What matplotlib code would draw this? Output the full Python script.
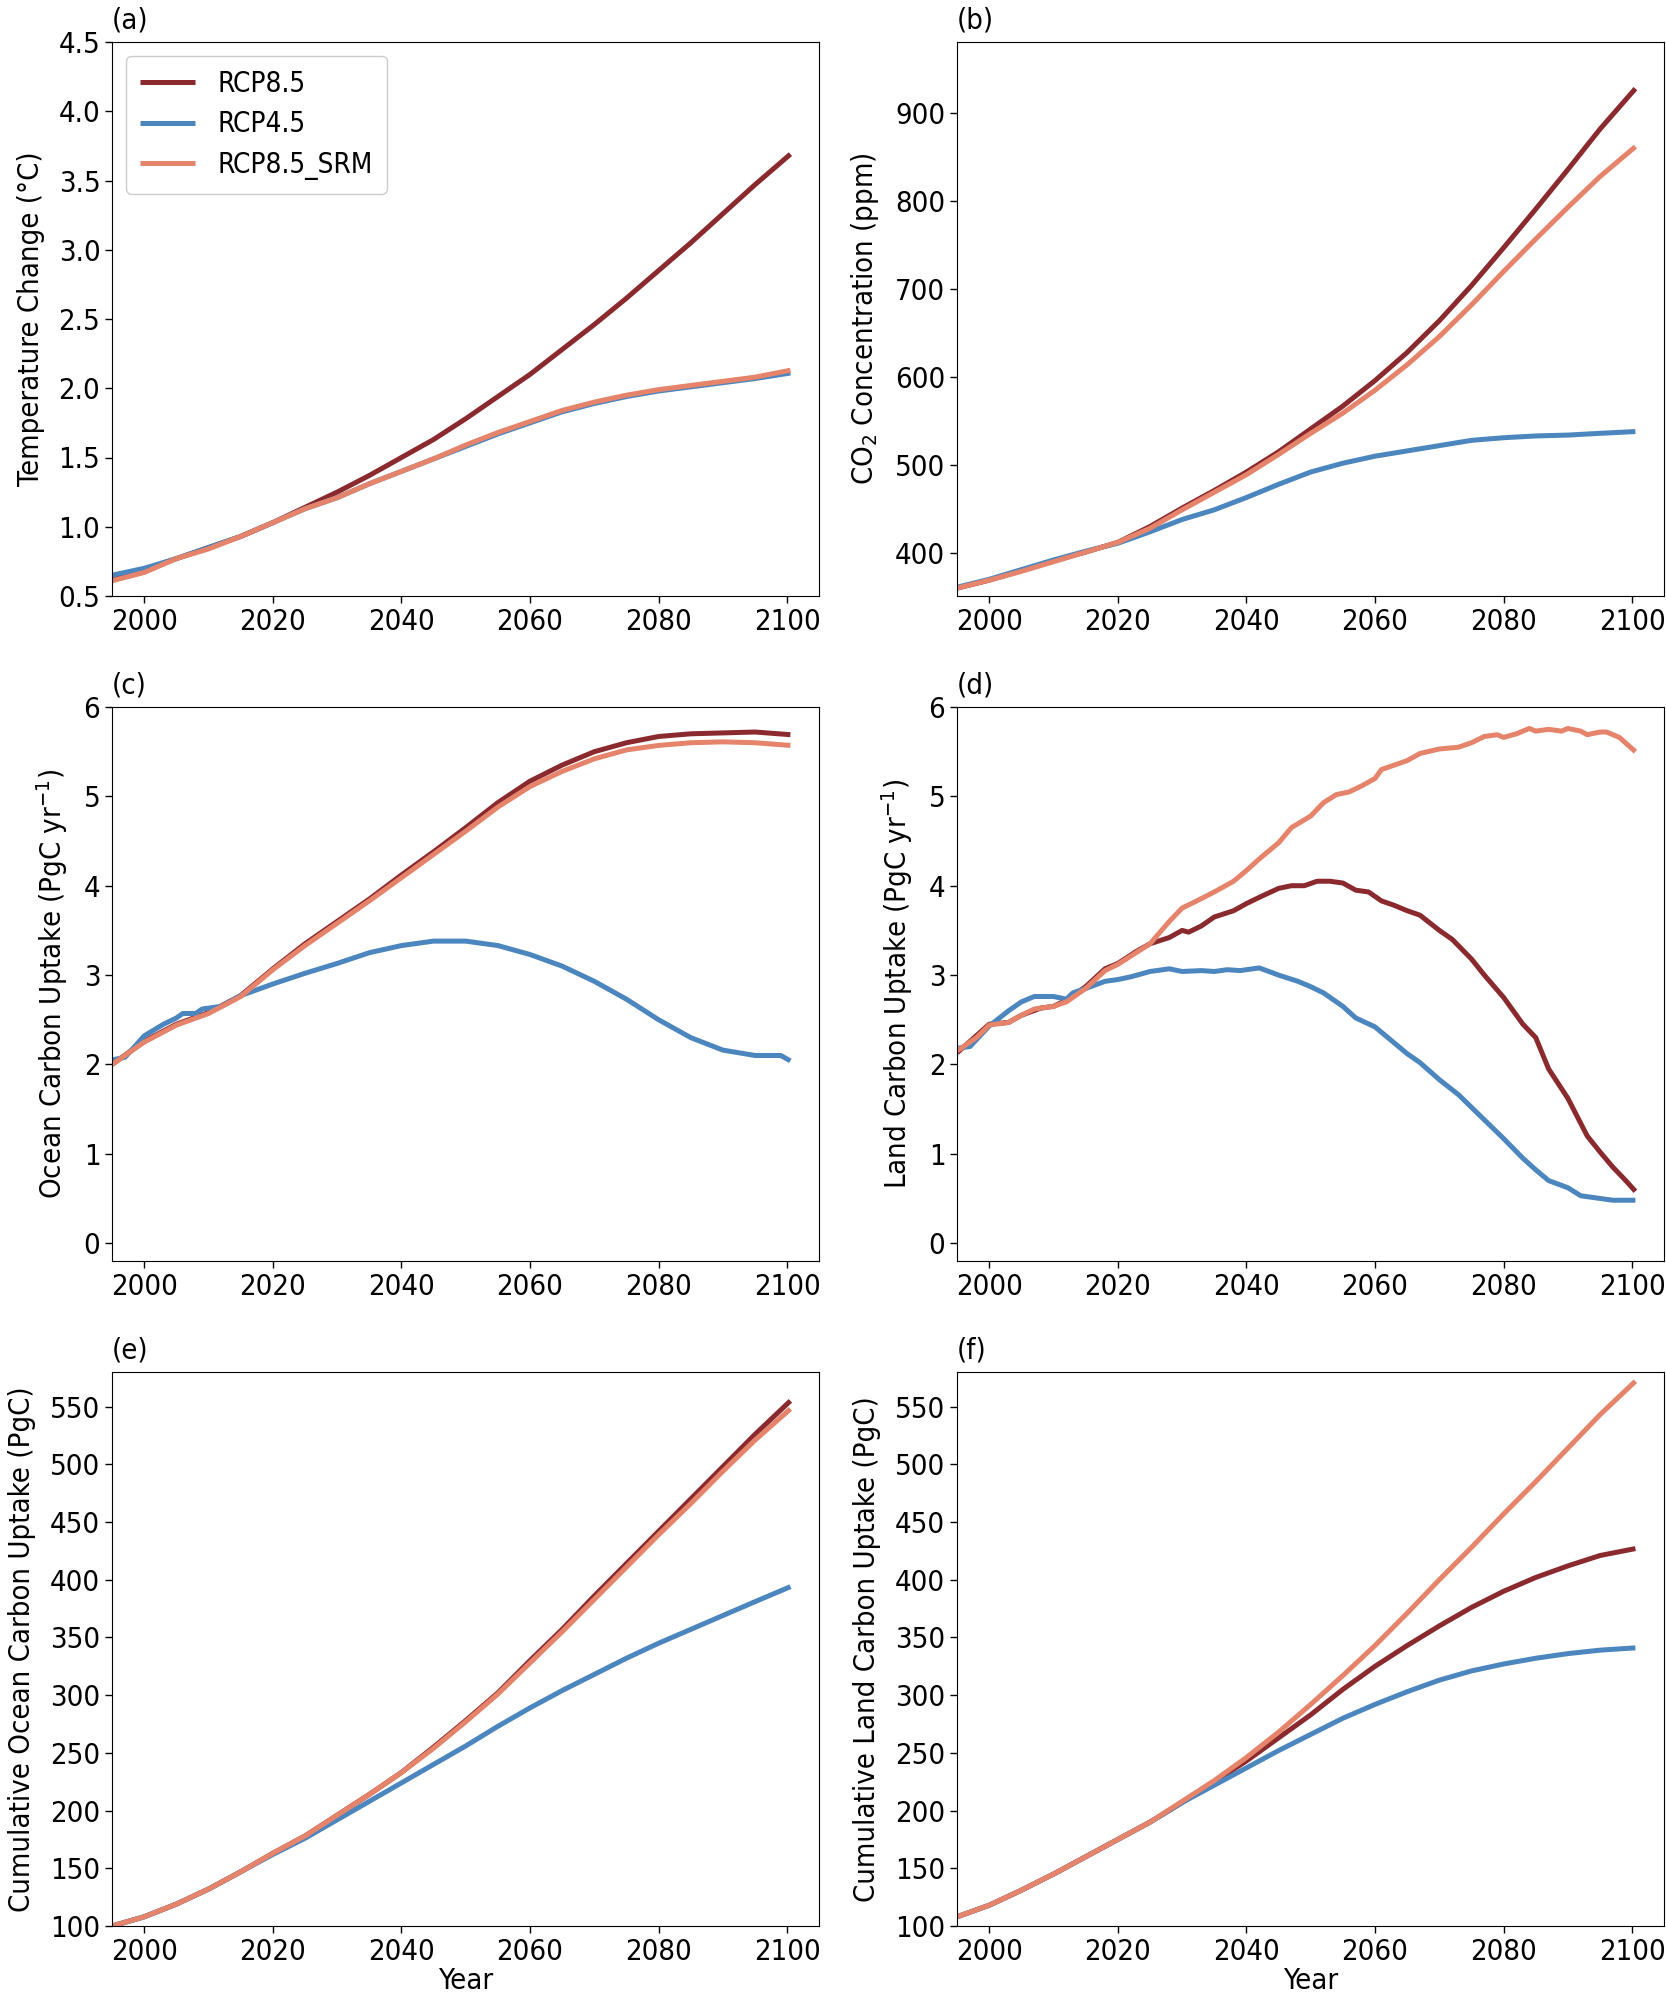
import matplotlib
matplotlib.use("Agg")
import matplotlib.pyplot as plt
from matplotlib import font_manager

# ---------------- data ----------------
years5 = [1995, 2000, 2005, 2010, 2015, 2020, 2025, 2030, 2035, 2040, 2045,
          2050, 2055, 2060, 2065, 2070, 2075, 2080, 2085, 2090, 2095, 2100.5]

temp_rcp85 = [0.63, 0.69, 0.77, 0.85, 0.93, 1.03, 1.14, 1.25, 1.37, 1.50, 1.63,
              1.78, 1.94, 2.10, 2.28, 2.46, 2.65, 2.85, 3.05, 3.26, 3.47, 3.69]
temp_rcp45 = [0.65, 0.70, 0.77, 0.85, 0.93, 1.03, 1.13, 1.21, 1.31, 1.40, 1.49,
              1.58, 1.67, 1.75, 1.83, 1.89, 1.94, 1.98, 2.01, 2.04, 2.07, 2.11]
temp_srm = [0.61, 0.67, 0.77, 0.84, 0.93, 1.03, 1.13, 1.21, 1.31, 1.40, 1.49,
            1.59, 1.68, 1.76, 1.84, 1.90, 1.95, 1.99, 2.02, 2.05, 2.08, 2.13]

co2_rcp85 = [360, 369, 380, 391, 401, 412, 430, 451, 471, 492, 515,
             541, 567, 596, 628, 664, 704, 747, 791, 836, 882, 928]
co2_rcp45 = [361, 370, 381, 392, 402, 411, 424, 438, 449, 463, 478,
             492, 502, 510, 516, 522, 528, 531, 533, 534, 536, 538]
co2_srm = [360, 369, 379, 390, 401, 412, 428, 449, 469, 489, 512,
           536, 559, 585, 614, 646, 682, 720, 757, 793, 828, 862]

ocean_rcp85 = [2.00, 2.26, 2.45, 2.58, 2.77, 3.07, 3.35, 3.60, 3.85, 4.12, 4.38,
               4.65, 4.93, 5.17, 5.35, 5.50, 5.60, 5.67, 5.70, 5.71, 5.72, 5.69]
ocean_srm = [2.00, 2.25, 2.44, 2.57, 2.76, 3.06, 3.33, 3.58, 3.83, 4.09, 4.35,
             4.61, 4.88, 5.11, 5.28, 5.42, 5.52, 5.57, 5.60, 5.61, 5.60, 5.57]
ocean45_years = [1995, 1997, 2000, 2003, 2005, 2006, 2008, 2009, 2012, 2015, 2020,
                 2025, 2030, 2035, 2040, 2045, 2050, 2055, 2060, 2065, 2070, 2075,
                 2080, 2085, 2090, 2095, 2099, 2100.5]
ocean_rcp45 = [2.05, 2.08, 2.32, 2.45, 2.52, 2.57, 2.57, 2.62, 2.65, 2.77, 2.90,
               3.02, 3.13, 3.25, 3.33, 3.38, 3.38, 3.33, 3.23, 3.10, 2.93, 2.73,
               2.50, 2.30, 2.16, 2.10, 2.10, 2.04]

land_srm_years = [1995, 1998, 2000, 2003, 2005, 2007, 2010, 2012, 2015, 2018, 2020,
                  2025, 2028, 2030, 2032, 2035, 2038, 2040, 2042, 2045, 2047, 2050,
                  2052, 2054, 2056, 2058, 2060, 2061, 2063, 2065, 2067, 2070, 2073,
                  2075, 2077, 2079, 2080, 2082, 2084, 2085, 2087, 2089, 2090, 2092,
                  2093, 2095, 2096, 2098, 2100.5]
land_srm = [2.15, 2.30, 2.44, 2.47, 2.55, 2.62, 2.65, 2.70, 2.85, 3.05, 3.12,
            3.35, 3.60, 3.75, 3.82, 3.93, 4.05, 4.17, 4.30, 4.48, 4.65, 4.78,
            4.93, 5.02, 5.05, 5.12, 5.20, 5.30, 5.35, 5.40, 5.48, 5.53, 5.55,
            5.60, 5.67, 5.69, 5.66, 5.70, 5.76, 5.73, 5.75, 5.73, 5.76, 5.73,
            5.69, 5.72, 5.72, 5.66, 5.50]
land85_years = [1995, 2000, 2003, 2005, 2008, 2010, 2012, 2015, 2018, 2020, 2023,
                2025, 2028, 2030, 2031, 2033, 2035, 2038, 2040, 2042, 2045, 2047,
                2049, 2051, 2053, 2055, 2057, 2059, 2061, 2063, 2065, 2067, 2070,
                2072, 2075, 2077, 2080, 2083, 2085, 2087, 2090, 2093, 2095, 2097,
                2099, 2100.5]
land_rcp85 = [2.13, 2.45, 2.47, 2.55, 2.63, 2.65, 2.72, 2.87, 3.07, 3.13, 3.27,
              3.35, 3.42, 3.50, 3.48, 3.55, 3.65, 3.72, 3.80, 3.87, 3.97, 4.00,
              4.00, 4.05, 4.05, 4.03, 3.95, 3.93, 3.83, 3.78, 3.72, 3.67, 3.50,
              3.40, 3.18, 3.00, 2.75, 2.45, 2.30, 1.95, 1.62, 1.20, 1.02, 0.85,
              0.70, 0.58]
land45_years = [1995, 1997, 2000, 2003, 2005, 2007, 2010, 2012, 2013, 2015, 2018,
                2020, 2022, 2025, 2028, 2030, 2033, 2035, 2037, 2039, 2042, 2045,
                2048, 2050, 2052, 2055, 2057, 2060, 2062, 2065, 2067, 2070, 2073,
                2075, 2077, 2080, 2083, 2085, 2087, 2090, 2092, 2095, 2097, 2100.5]
land_rcp45 = [2.18, 2.20, 2.43, 2.60, 2.70, 2.76, 2.76, 2.73, 2.80, 2.85, 2.93,
              2.95, 2.98, 3.04, 3.07, 3.04, 3.05, 3.04, 3.06, 3.05, 3.08, 3.00,
              2.93, 2.87, 2.80, 2.65, 2.52, 2.42, 2.30, 2.12, 2.02, 1.83, 1.66,
              1.52, 1.38, 1.17, 0.95, 0.82, 0.70, 0.62, 0.53, 0.50, 0.48, 0.48]

cumoc_rcp85 = [100, 108, 119, 132, 147, 163, 178, 196, 214, 233, 255,
               278, 302, 330, 357, 386, 414, 442, 470, 498, 526, 555]
cumoc_rcp45 = [100, 108, 119, 132, 147, 162, 176, 192, 208, 224, 240,
               256, 273, 289, 304, 318, 332, 345, 357, 369, 381, 394]
cumoc_srm = [100, 108, 119, 132, 147, 163, 178, 196, 214, 233, 254,
             277, 301, 328, 355, 383, 411, 439, 466, 494, 521, 548]

cumld_rcp85 = [108, 118, 131, 145, 160, 175, 190, 207, 225, 243, 263,
               283, 305, 325, 343, 360, 376, 390, 402, 412, 421, 427]
cumld_rcp45 = [108, 118, 131, 145, 160, 175, 190, 207, 222, 237, 252,
               266, 280, 292, 303, 313, 321, 327, 332, 336, 339, 341]
cumld_srm = [108, 118, 131, 145, 160, 175, 190, 208, 226, 246, 268,
             292, 317, 343, 371, 400, 428, 457, 485, 514, 543, 572]

labels = ["RCP8.5", "RCP4.5", "RCP8.5_SRM"]
xticks = [2000, 2020, 2040, 2060, 2080, 2100]

# ---------------- style ----------------
C85 = "#8b2a2e"
C45 = "#4c86bf"
CSRM = "#e5846a"
LW = 3.6

# use a condensed DejaVu face if it is installed (the reference text is narrow)
cond_path = font_manager.findfont(
    font_manager.FontProperties(family="DejaVu Sans", stretch="condensed"))
if "Condensed" in cond_path:
    FS = 21
    LEG_FS = 20
    STRETCH = "condensed"
else:
    FS = 19
    LEG_FS = 18
    STRETCH = "normal"

plt.rcParams["font.family"] = ["DejaVu Sans"]
plt.rcParams["font.stretch"] = STRETCH
plt.rcParams["font.size"] = FS
plt.rcParams["mathtext.fontset"] = "custom"
plt.rcParams["mathtext.rm"] = "DejaVu Sans"

fig = plt.figure(figsize=(16.66, 20), dpi=100)

lefts = [0.0673, 0.5745]
w = 0.4245
h = 0.277
bottoms = [0.702, 0.3695, 0.037]

panels = [
    dict(tag="(a)", ylabel="Temperature Change (°C)",
         series=[(years5, temp_rcp85), (years5, temp_rcp45), (years5, temp_srm)],
         ylim=(0.5, 4.5), yticks=[0.5, 1.0, 1.5, 2.0, 2.5, 3.0, 3.5, 4.0, 4.5],
         fmt="{:.1f}"),
    dict(tag="(b)", ylabel="CO$_2$ Concentration (ppm)",
         series=[(years5, co2_rcp85), (years5, co2_rcp45), (years5, co2_srm)],
         ylim=(351, 981), yticks=[400, 500, 600, 700, 800, 900], fmt="{:.0f}"),
    dict(tag="(c)", ylabel="Ocean Carbon Uptake (PgC yr$^{-1}$)",
         series=[(years5, ocean_rcp85), (ocean45_years, ocean_rcp45), (years5, ocean_srm)],
         ylim=(-0.2, 6.0), yticks=[0, 1, 2, 3, 4, 5, 6], fmt="{:.0f}"),
    dict(tag="(d)", ylabel="Land Carbon Uptake (PgC yr$^{-1}$)",
         series=[(land85_years, land_rcp85), (land45_years, land_rcp45),
                 (land_srm_years, land_srm)],
         ylim=(-0.2, 6.0), yticks=[0, 1, 2, 3, 4, 5, 6], fmt="{:.0f}"),
    dict(tag="(e)", ylabel="Cumulative Ocean Carbon Uptake (PgC)",
         series=[(years5, cumoc_rcp85), (years5, cumoc_rcp45), (years5, cumoc_srm)],
         ylim=(100, 580), yticks=list(range(100, 551, 50)), fmt="{:.0f}"),
    dict(tag="(f)", ylabel="Cumulative Land Carbon Uptake (PgC)",
         series=[(years5, cumld_rcp85), (years5, cumld_rcp45), (years5, cumld_srm)],
         ylim=(100, 580), yticks=list(range(100, 551, 50)), fmt="{:.0f}"),
]

colors = [C85, C45, CSRM]

for i, p in enumerate(panels):
    row, col = divmod(i, 2)
    ax = fig.add_axes([lefts[col], bottoms[row], w, h])
    for (x, y), c, lab in zip(p["series"], colors, labels):
        ax.plot(x, y, color=c, lw=LW, label=lab, solid_capstyle="butt",
                solid_joinstyle="round")
    ax.set_xlim(1995, 2105)
    ax.set_ylim(*p["ylim"])
    ax.set_xticks(xticks)
    ax.set_yticks(p["yticks"])
    ax.set_yticklabels([p["fmt"].format(v) for v in p["yticks"]])
    ax.tick_params(labelsize=FS, length=5, width=1)
    ax.set_ylabel(p["ylabel"], fontsize=FS, labelpad=10)
    ax.set_title(p["tag"], loc="left", fontsize=FS, pad=10)
    if row == 2:
        ax.set_xlabel("Year", fontsize=FS, labelpad=1)
    if i == 0:
        ax.legend(loc="upper left", fontsize=LEG_FS, handlelength=2.0,
                  borderpad=0.5, labelspacing=0.45, framealpha=1.0)

fig.savefig("out.png", dpi=100)
